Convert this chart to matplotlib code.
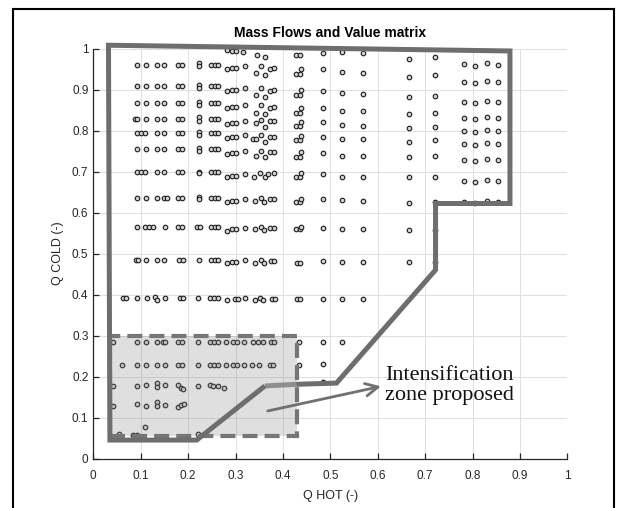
import matplotlib
matplotlib.use("Agg")
import matplotlib.pyplot as plt
from matplotlib.lines import Line2D
from matplotlib.patches import Rectangle

# operating points, row by row: (Q HOT, Q COLD)
row_hot = [
    [0.281, 0.292, 0.300, 0.316, 0.345, 0.362, 0.428, 0.435],
    [0.093, 0.111, 0.134, 0.149, 0.179, 0.188, 0.222, 0.222, 0.248, 0.256, 0.264, 0.281, 0.292, 0.300, 0.320, 0.343, 0.353, 0.362, 0.373, 0.381, 0.428, 0.435, 0.438],
    [0.093, 0.111, 0.134, 0.149, 0.179, 0.188, 0.222, 0.222, 0.248, 0.256, 0.264, 0.281, 0.292, 0.300, 0.320, 0.343, 0.353, 0.362, 0.373, 0.381, 0.428, 0.435, 0.438],
    [0.093, 0.111, 0.134, 0.149, 0.179, 0.188, 0.222, 0.222, 0.248, 0.256, 0.264, 0.281, 0.292, 0.300, 0.320, 0.343, 0.353, 0.362, 0.373, 0.381, 0.428, 0.435, 0.438],
    [0.087, 0.093, 0.111, 0.134, 0.149, 0.179, 0.188, 0.222, 0.222, 0.248, 0.256, 0.264, 0.281, 0.292, 0.300, 0.320, 0.343, 0.353, 0.362, 0.373, 0.381, 0.428, 0.435, 0.438],
    [0.093, 0.100, 0.108, 0.134, 0.149, 0.179, 0.188, 0.222, 0.222, 0.248, 0.256, 0.264, 0.281, 0.292, 0.300, 0.320, 0.337, 0.344, 0.353, 0.362, 0.373, 0.381, 0.428, 0.435, 0.438],
    [0.093, 0.111, 0.134, 0.149, 0.179, 0.188, 0.222, 0.222, 0.248, 0.256, 0.264, 0.281, 0.292, 0.300, 0.320, 0.343, 0.353, 0.362, 0.373, 0.381, 0.428, 0.435, 0.438],
    [0.093, 0.100, 0.108, 0.134, 0.149, 0.179, 0.188, 0.222, 0.222, 0.248, 0.256, 0.264, 0.281, 0.292, 0.300, 0.320, 0.338, 0.351, 0.362, 0.368, 0.381, 0.428, 0.435, 0.438],
    [0.093, 0.111, 0.134, 0.149, 0.155, 0.179, 0.188, 0.222, 0.222, 0.248, 0.256, 0.264, 0.281, 0.292, 0.300, 0.320, 0.342, 0.353, 0.361, 0.373, 0.381, 0.428, 0.435, 0.438],
    [0.093, 0.109, 0.117, 0.126, 0.151, 0.179, 0.188, 0.218, 0.226, 0.248, 0.256, 0.264, 0.281, 0.292, 0.300, 0.320, 0.342, 0.353, 0.361, 0.373, 0.381, 0.428, 0.435, 0.438],
    [0.090, 0.095, 0.111, 0.134, 0.149, 0.181, 0.190, 0.222, 0.248, 0.256, 0.264, 0.281, 0.292, 0.300, 0.320, 0.342, 0.353, 0.361, 0.375, 0.381, 0.429, 0.436],
    [0.063, 0.069, 0.092, 0.113, 0.131, 0.134, 0.151, 0.183, 0.189, 0.220, 0.246, 0.255, 0.263, 0.281, 0.299, 0.305, 0.320, 0.341, 0.352, 0.359, 0.376, 0.383, 0.429, 0.436],
    [0.042, 0.093, 0.111, 0.134, 0.146, 0.151, 0.179, 0.188, 0.220, 0.246, 0.255, 0.264, 0.279, 0.295, 0.304, 0.318, 0.337, 0.348, 0.357, 0.375, 0.382, 0.434],
    [0.060, 0.093, 0.111, 0.134, 0.151, 0.179, 0.187, 0.220, 0.246, 0.255, 0.264, 0.279, 0.295, 0.304, 0.318, 0.334, 0.350, 0.372, 0.380, 0.434],
    [0.042, 0.093, 0.111, 0.134, 0.134, 0.151, 0.179, 0.184, 0.190, 0.220, 0.246, 0.253, 0.262, 0.275],
    [0.042, 0.093, 0.111, 0.134, 0.134, 0.151, 0.179, 0.186, 0.192],
    [0.055, 0.083, 0.093, 0.110, 0.220],
]
row_cold = [
    [0.996, 0.993, 0.995, 0.992, 0.984, 0.980, 0.984, 0.984],
    [0.961, 0.961, 0.961, 0.961, 0.961, 0.961, 0.965, 0.957, 0.961, 0.961, 0.961, 0.949, 0.952, 0.952, 0.957, 0.940, 0.957, 0.935, 0.950, 0.953, 0.937, 0.937, 0.949],
    [0.908, 0.908, 0.908, 0.908, 0.908, 0.908, 0.912, 0.904, 0.908, 0.908, 0.908, 0.896, 0.899, 0.899, 0.904, 0.887, 0.903, 0.882, 0.897, 0.900, 0.887, 0.887, 0.899],
    [0.866, 0.866, 0.866, 0.866, 0.866, 0.866, 0.870, 0.862, 0.866, 0.866, 0.866, 0.854, 0.857, 0.857, 0.862, 0.843, 0.862, 0.840, 0.856, 0.858, 0.843, 0.843, 0.856],
    [0.828, 0.828, 0.828, 0.828, 0.828, 0.828, 0.828, 0.832, 0.824, 0.828, 0.828, 0.828, 0.816, 0.819, 0.819, 0.824, 0.819, 0.826, 0.808, 0.823, 0.823, 0.811, 0.811, 0.821],
    [0.793, 0.793, 0.793, 0.793, 0.793, 0.793, 0.793, 0.797, 0.789, 0.793, 0.793, 0.793, 0.781, 0.784, 0.784, 0.789, 0.779, 0.779, 0.789, 0.773, 0.785, 0.785, 0.777, 0.777, 0.787],
    [0.754, 0.754, 0.754, 0.754, 0.754, 0.754, 0.758, 0.750, 0.754, 0.754, 0.754, 0.742, 0.745, 0.745, 0.750, 0.738, 0.750, 0.736, 0.747, 0.748, 0.736, 0.736, 0.748],
    [0.698, 0.698, 0.698, 0.698, 0.698, 0.698, 0.698, 0.700, 0.696, 0.698, 0.698, 0.698, 0.686, 0.689, 0.689, 0.694, 0.687, 0.696, 0.687, 0.693, 0.696, 0.687, 0.687, 0.696],
    [0.636, 0.636, 0.636, 0.636, 0.636, 0.636, 0.636, 0.638, 0.634, 0.636, 0.636, 0.636, 0.626, 0.629, 0.629, 0.633, 0.628, 0.635, 0.626, 0.633, 0.633, 0.626, 0.626, 0.633],
    [0.565, 0.565, 0.565, 0.565, 0.565, 0.565, 0.565, 0.565, 0.565, 0.565, 0.565, 0.565, 0.556, 0.559, 0.559, 0.563, 0.560, 0.565, 0.557, 0.563, 0.563, 0.560, 0.560, 0.565],
    [0.484, 0.484, 0.484, 0.484, 0.484, 0.484, 0.484, 0.484, 0.484, 0.484, 0.484, 0.476, 0.479, 0.479, 0.483, 0.478, 0.484, 0.476, 0.482, 0.482, 0.478, 0.478],
    [0.391, 0.391, 0.391, 0.391, 0.393, 0.386, 0.391, 0.391, 0.391, 0.391, 0.391, 0.391, 0.391, 0.387, 0.389, 0.389, 0.392, 0.387, 0.392, 0.387, 0.389, 0.389, 0.388, 0.388],
    [0.283] * 22,
    [0.228] * 20,
    [0.177, 0.177, 0.179, 0.183, 0.174, 0.179, 0.179, 0.172, 0.169, 0.177, 0.179, 0.177, 0.177, 0.173],
    [0.128, 0.132, 0.127, 0.137, 0.128, 0.130, 0.125, 0.131, 0.132],
    [0.061, 0.057, 0.057, 0.076, 0.060],
]

# columns at higher Q HOT
col_hot = [0.484, 0.524, 0.570, 0.666, 0.721, 0.781, 0.805, 0.831, 0.854]
col_cold = [
    [0.990, 0.950, 0.897, 0.854, 0.821, 0.785, 0.746, 0.693, 0.632, 0.563, 0.482, 0.389, 0.283, 0.230, 0.186],
    [0.991, 0.942, 0.891, 0.848, 0.813, 0.779, 0.739, 0.687, 0.630, 0.560, 0.480, 0.389, 0.283],
    [0.988, 0.940, 0.889, 0.847, 0.812, 0.779, 0.739, 0.687, 0.629, 0.560, 0.480, 0.389],
    [0.974, 0.931, 0.881, 0.840, 0.805, 0.773, 0.736, 0.686, 0.624, 0.557, 0.479],
    [0.980, 0.935, 0.884, 0.843, 0.809, 0.777, 0.738, 0.687, 0.626, 0.557, 0.480],
    [0.962, 0.918, 0.870, 0.830, 0.799, 0.767, 0.728, 0.678, 0.626],
    [0.958, 0.915, 0.867, 0.827, 0.796, 0.764, 0.725, 0.675, 0.623],
    [0.964, 0.920, 0.872, 0.832, 0.801, 0.769, 0.730, 0.680, 0.628],
    [0.961, 0.918, 0.870, 0.830, 0.799, 0.767, 0.728, 0.678, 0.626],
]

# outline of the feasible region
region_hot = [0.428, 0.513, 0.722, 0.722, 0.879, 0.879, 0.032, 0.035, 0.218, 0.362]
region_cold = [0.181, 0.184, 0.460, 0.622, 0.622, 0.994, 1.008, 0.045, 0.045, 0.177]
step_hot = [0.362, 0.428]
step_cold = [0.177, 0.181]

# proposed intensification zone
zone_hot = (0.035, 0.430)
zone_cold = (0.055, 0.300)

pts_x, pts_y = [], []
for xs, ys in zip(row_hot, row_cold):
    pts_x += xs
    pts_y += ys
for x, ys in zip(col_hot, col_cold):
    pts_x += [x] * len(ys)
    pts_y += ys

plt.rcParams['font.family'] = ['Liberation Sans', 'DejaVu Sans']
txt = '#262626'

fig = plt.figure(figsize=(6.25, 5.08), dpi=100)
ax = fig.add_axes([0.1493, 0.0974, 0.7584, 0.8071])

ax.plot(pts_x, pts_y, 'o', ms=3.3, mfc='#d4d4d4', mec='#1c1c1c', mew=0.8,
        zorder=3, clip_on=False)

ax.add_patch(Rectangle((zone_hot[0], zone_cold[0]), zone_hot[1] - zone_hot[0],
                       zone_cold[1] - zone_cold[0], facecolor='#808080', alpha=0.25,
                       edgecolor='none', zorder=4))
ax.add_patch(Rectangle((zone_hot[0], zone_cold[0]), zone_hot[1] - zone_hot[0],
                       zone_cold[1] - zone_cold[0], facecolor='none', edgecolor='#767676',
                       lw=3.0, linestyle=(0, (3.6, 1.7)), zorder=5))

ax.plot(step_hot, step_cold, color='#8e8e8e', lw=3.6, solid_capstyle='butt', zorder=6)
ax.plot(region_hot, region_cold, color='#6e6e6e', lw=3.6, solid_joinstyle='miter',
        solid_capstyle='butt', zorder=6, clip_on=False)

ax.annotate('', xy=(0.607, 0.176), xytext=(0.368, 0.116),
            arrowprops=dict(arrowstyle='->,head_length=0.9,head_width=0.45',
                            color='#707070', lw=2.0, shrinkA=0, shrinkB=0), zorder=7)
ax.text(0.616, 0.226, 'Intensification\nzone proposed', family='Liberation Serif',
        fontsize=16, color='#111111', ha='left', va='top', linespacing=1.08, zorder=7)

ax.set_xlim(0, 1)
ax.set_ylim(0, 1)
ax.set_xticks([i / 10 for i in range(11)])
ax.set_yticks([i / 10 for i in range(11)])
ax.set_xticklabels(['0', '0.1', '0.2', '0.3', '0.4', '0.5', '0.6', '0.7', '0.8', '0.9', '1'])
ax.set_yticklabels(['0', '0.1', '0.2', '0.3', '0.4', '0.5', '0.6', '0.7', '0.8', '0.9', '1'])
ax.grid(True, color='#dedede', lw=0.7)
ax.set_axisbelow(True)
ax.spines['top'].set_visible(False)
ax.spines['right'].set_visible(False)
for s in ('left', 'bottom'):
    ax.spines[s].set_color(txt)
    ax.spines[s].set_linewidth(0.9)
ax.tick_params(direction='in', length=4.5, width=0.9, color=txt, labelcolor=txt,
               labelsize=8.5)
ax.tick_params(axis='x', pad=8)
ax.tick_params(axis='y', pad=3.5)

ax.set_xlabel('Q HOT (-)', fontsize=9, color=txt, labelpad=6)
ax.set_ylabel('Q COLD (-)', fontsize=9, color=txt, labelpad=6)
ax.set_title('Mass Flows and Value matrix', fontsize=10, fontweight='bold',
             color='black', pad=8)

# page frame
fig.add_artist(Line2D([13 / 625, 13 / 625], [0, 1 - 9 / 508], color='black', lw=1.5))
fig.add_artist(Line2D([13 / 625, 614 / 625], [1 - 9 / 508, 1 - 9 / 508], color='black', lw=1.5))
fig.add_artist(Line2D([614 / 625, 614 / 625], [0, 1 - 9 / 508], color='black', lw=1.5))

fig.savefig('out.png', dpi=100)
